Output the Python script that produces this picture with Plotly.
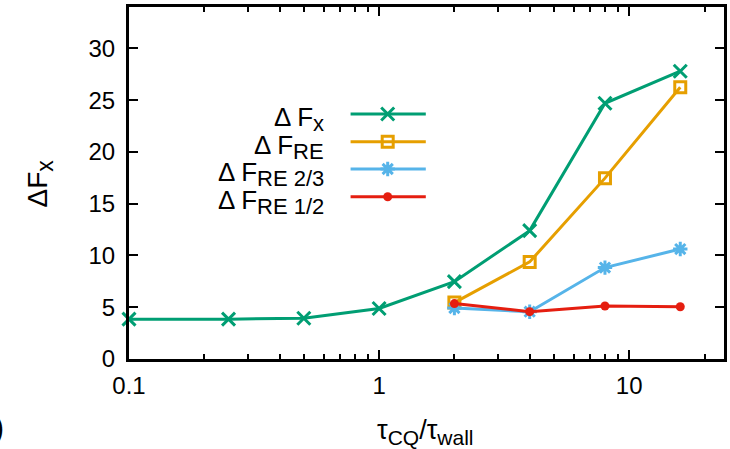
import plotly.graph_objects as go

# ---- data ----
x_fx = [0.1, 0.25, 0.5, 1, 2, 4, 8, 16]
y_fx = [3.85, 3.85, 3.93, 4.88, 7.47, 12.4, 24.7, 27.8]

x_re = [2, 4, 8, 16]
y_re = [5.45, 9.38, 17.47, 26.25]

x_re23 = [2, 4, 8, 16]
y_re23 = [4.92, 4.57, 8.83, 10.62]

x_re12 = [2, 4, 8, 16]
y_re12 = [5.35, 4.57, 5.12, 5.05]


def sub(t, size=20):
    return "<sub><span style='font-size:%dpx'>%s</span></sub>" % (size, t)


names = ["Δ F" + sub("x", 22), "Δ F" + sub("RE", 22), "Δ F" + sub("RE 2/3", 22), "Δ F" + sub("RE 1/2", 22)]
colors = ["#009E73", "#E69F00", "#56B4E9", "#E51E10"]
symbols = ["x-thin-open", "square-open", "asterisk-open", "circle"]
msizes = [13, 11, 12, 9]

xticks = [0.1, 1, 10]
xticktext = ["0.1", "1", "10"]
xminor = [0.2, 0.3, 0.4, 0.5, 0.6, 0.7, 0.8, 0.9, 2, 3, 4, 5, 6, 7, 8, 9, 20]
yticks = [0, 5, 10, 15, 20, 25, 30]

FONT = "Liberation Sans, Arial, sans-serif"
W, H = 730, 449
L, R, T, B = 129, 3, 7, 90
PW, PH = W - L - R, H - T - B


def px(xp):
    return (xp - L) / PW


def py(yp):
    return (H - B - yp) / PH


fig = go.Figure()
series = [(x_fx, y_fx), (x_re, y_re), (x_re23, y_re23), (x_re12, y_re12)]
for (xs, ys), c, s, ms in zip(series, colors, symbols, msizes):
    fig.add_trace(go.Scatter(
        x=xs, y=ys, mode="lines+markers",
        line=dict(color=c, width=3),
        marker=dict(symbol=s, size=ms, color=c, line=dict(color=c, width=3 if s != "circle" else 0)),
        showlegend=False, cliponaxis=False,
    ))

# ---- key (gnuplot style) drawn on an overlay axis in [0,1] ----
key_ypx = [114, 141.7, 169, 196.7]
key_y = [py(v) for v in key_ypx]
key_x0, key_xm, key_x1 = px(351.7), px(389), px(427.3)
for ky, c, s, ms in zip(key_y, colors, symbols, msizes):
    fig.add_trace(go.Scatter(
        x=[key_x0, key_x1], y=[ky, ky], mode="lines",
        line=dict(color=c, width=3), xaxis="x2", yaxis="y2", showlegend=False))
    fig.add_trace(go.Scatter(
        x=[key_xm], y=[ky], mode="markers",
        marker=dict(symbol=s, size=ms, color=c, line=dict(color=c, width=3 if s != "circle" else 0)),
        xaxis="x2", yaxis="y2", showlegend=False))
for ky, nm in zip(key_y, names):
    fig.add_annotation(x=px(327), y=ky, xref="paper", yref="paper", text=nm,
                       xanchor="right", yanchor="middle", showarrow=False,
                       yshift=-5, font=dict(family=FONT, size=26, color="black"))

# axis titles
fig.add_annotation(x=px(40), y=py(183), xref="paper", yref="paper",
                   text="ΔF" + sub("x", 23), textangle=-90, showarrow=False,
                   xanchor="center", yanchor="middle",
                   font=dict(family=FONT, size=28, color="black"))
fig.add_annotation(x=px(427), y=py(432), xref="paper", yref="paper",
                   text="τ" + sub("CQ", 21) + "/τ" + sub("wall", 21), showarrow=False,
                   xanchor="center", yanchor="middle",
                   font=dict(family=FONT, size=27, color="black"))
# cropped panel label
fig.add_annotation(x=px(5), y=py(427), xref="paper", yref="paper",
                   text="(b)", showarrow=False, xanchor="right", yanchor="middle",
                   font=dict(family=FONT, size=32, color="black"))

TICKFONT = dict(family=FONT, size=24, color="black")
fig.update_layout(
    width=W, height=H,
    margin=dict(l=L, r=R, t=T, b=B),
    paper_bgcolor="white", plot_bgcolor="white",
    font=dict(family=FONT, size=24, color="black"),
    xaxis=dict(type="log", range=[-1, 1.379], tickvals=xticks, ticktext=xticktext,
               tickfont=TICKFONT,
               ticks="inside", ticklen=9, tickwidth=1.5, tickcolor="black",
               showline=True, linewidth=3, linecolor="black", mirror="allticks",
               showgrid=False, zeroline=False, ticklabelstandoff=3,
               minor=dict(tickvals=xminor, ticks="inside", ticklen=5, tickwidth=1.5,
                          tickcolor="black", showgrid=False)),
    yaxis=dict(range=[0, 34], tickvals=yticks, tickfont=TICKFONT,
               ticks="inside", ticklen=9, tickwidth=1.5, tickcolor="black",
               showline=True, linewidth=3, linecolor="black", mirror="allticks",
               showgrid=False, zeroline=False, ticklabelstandoff=6),
    xaxis2=dict(overlaying="x", range=[0, 1], visible=False),
    yaxis2=dict(overlaying="y", range=[0, 1], visible=False),
)

fig.write_html("out.html")
